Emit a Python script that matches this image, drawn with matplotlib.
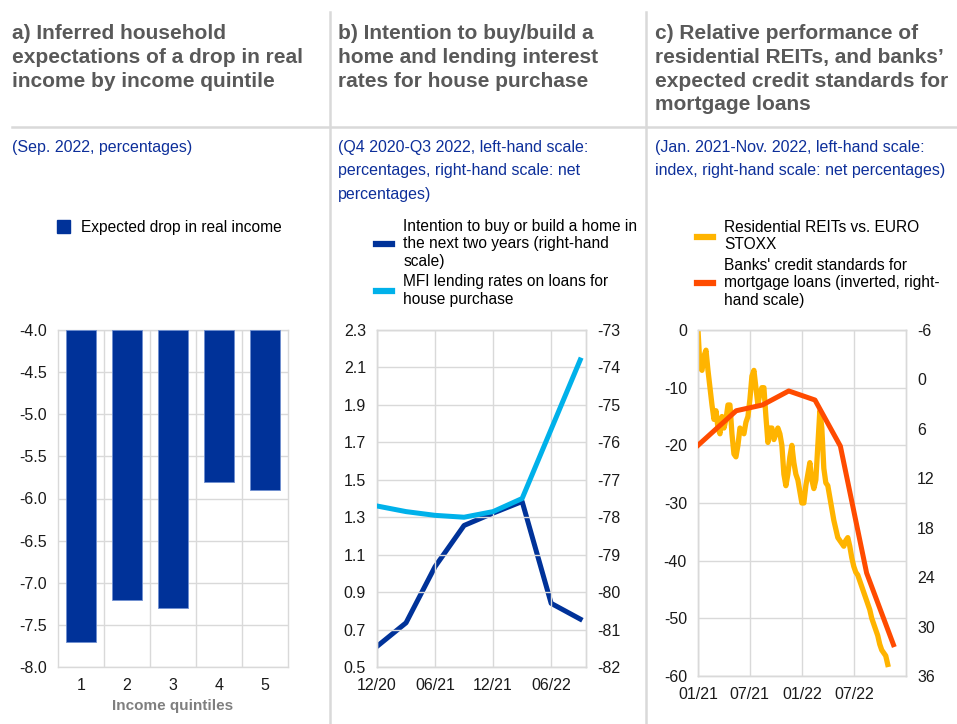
import numpy as np
import pandas as pd
import matplotlib
matplotlib.use("Agg")
import matplotlib.pyplot as plt
import matplotlib.dates as mdates
from matplotlib.patches import Patch
from matplotlib.lines import Line2D

plt.rcParams['font.family'] = ['Liberation Sans', 'DejaVu Sans']
plt.rcParams['axes.unicode_minus'] = False

# colours
ecb_blue = '#003299'
light_blue = '#00b1ea'
yellow = '#ffb400'
orange = '#ff4b00'
grid_col = '#d9d9d9'
title_col = '#595959'
sub_col = '#0d2f9a'

# panel a data
quintiles = ['1', '2', '3', '4', '5']
drop_income = [-7.7, -7.2, -7.3, -5.8, -5.9]

# panel b data (quarterly, Q4 2020 - Q3 2022)
b_ticklabels = ['12/20', '06/21', '12/21', '06/22']
lending_rates = [1.36, 1.33, 1.31, 1.30, 1.33, 1.40, 1.77, 2.14]
intention = [-81.45, -80.82, -79.32, -78.22, -77.89, -77.58, -80.30, -80.72]

# panel c data
reit_start = '2021-01-01'
reit_values = [0, -6.5, -7, -4.5, -3.5, -7, -10, -13, -15.5, -14,
               -17, -18, -15, -17, -15.5, -13, -13, -18, -21.5, -22,
               -20, -17, -17.5, -18, -16, -15, -12, -8, -7, -10,
               -13, -11, -10, -10, -15, -19.5, -17, -17, -19, -18,
               -17, -18, -20, -25, -27, -25, -22, -20, -23, -25,
               -26, -28, -30, -30, -27, -25, -23, -26, -27.5, -26,
               -20, -14, -17, -24, -26.5, -27, -29, -31, -33, -34.5,
               -36, -36.5, -37, -37.5, -36.5, -36, -37.5, -39.5, -41, -42,
               -42.5, -43.5, -44.5, -45.5, -46.5, -47.5, -48.5, -50, -51, -52,
               -53, -54.5, -55.5, -56, -56.5, -58]
credit_dates = ['2021-01-01', '2021-05-15', '2021-08-15', '2021-11-15',
                '2022-02-15', '2022-05-15', '2022-08-15', '2022-11-17']
credit_std = [8, 3.8, 3.1, 1.4, 2.5, 8.1, 23.5, 32.2]

W, H = 957, 724
fig = plt.figure(figsize=(W / 100, H / 100), dpi=100)


def fx(px):
    return px / W


def fy(py):
    return 1 - py / H


def style_axis(ax):
    for s in ax.spines.values():
        s.set_color(grid_col)
        s.set_linewidth(1)
    ax.tick_params(length=0, labelsize=11.5, colors='#1a1a1a', pad=8)
    ax.set_axisbelow(True)


# separators
fig.add_artist(Line2D([fx(330), fx(330)], [fy(12), 0], color=grid_col, lw=1.8))
fig.add_artist(Line2D([fx(646), fx(646)], [fy(12), 0], color=grid_col, lw=1.8))
fig.add_artist(Line2D([fx(12), 1], [fy(127), fy(127)], color=grid_col, lw=1.8))

# titles and subtitles
titles = [(12, 'a) Inferred household\nexpectations of a drop in real\nincome by income quintile'),
          (338, 'b) Intention to buy/build a\nhome and lending interest\nrates for house purchase'),
          (655, 'c) Relative performance of\nresidential REITs, and banks\u2019\nexpected credit standards for\nmortgage loans')]
for x, t in titles:
    fig.text(fx(x), fy(24), t, fontsize=15, fontweight='bold', color=title_col,
             va='top', ha='left', linespacing=1.32)

subs = [(12, '(Sep. 2022, percentages)'),
        (338, '(Q4 2020-Q3 2022, left-hand scale:\npercentages, right-hand scale: net\npercentages)'),
        (655, '(Jan. 2021-Nov. 2022, left-hand scale:\nindex, right-hand scale: net percentages)')]
for x, t in subs:
    fig.text(fx(x), fy(140), t, fontsize=11.5, color=sub_col, va='top', ha='left',
             linespacing=1.7)

# ---------------- panel a ----------------
axa = fig.add_axes([fx(58), fy(667), fx(288 - 58), (667 - 330) / H])
xa = np.arange(len(quintiles))
axa.bar(xa, np.array(drop_income) + 4.0, bottom=-4.0, width=0.66,
        color=ecb_blue, edgecolor='#6f8fd0', linewidth=0.6, zorder=3)
axa.set_ylim(-8, -4)
axa.set_yticks(np.arange(-8, -3.9, 0.5))
axa.set_yticklabels(['%.1f' % v for v in np.arange(-8, -3.9, 0.5)])
axa.set_xlim(-0.5, len(quintiles) - 0.5)
axa.set_xticks(xa)
axa.set_xticklabels(quintiles)
axa.set_xticks(np.arange(0.5, len(quintiles) - 1, 1), minor=True)
axa.grid(axis='y', color=grid_col, lw=1)
axa.grid(axis='x', which='minor', color=grid_col, lw=1)
axa.tick_params(which='minor', length=0)
style_axis(axa)
axa.set_xlabel('Income quintiles', fontsize=11, fontweight='bold', color='#7f7f7f', labelpad=4)
axa.legend(handles=[Patch(color=ecb_blue, label='Expected drop in real income')],
           loc='upper left', bbox_to_anchor=(fx(57), fy(220)), bbox_transform=fig.transFigure,
           frameon=False, fontsize=11.2, handlelength=0.85, handleheight=0.85,
           handletextpad=0.7, borderpad=0, borderaxespad=0)

# ---------------- panel b ----------------
axb = fig.add_axes([fx(377), fy(667), fx(586 - 377), (667 - 330) / H])
xb = np.arange(len(lending_rates))
axb.plot(xb, lending_rates, color=light_blue, lw=3.6, zorder=3)
axb.set_ylim(0.5, 2.3)
axb.set_yticks(np.arange(0.5, 2.31, 0.2))
axb.set_yticklabels(['%.1f' % v for v in np.arange(0.5, 2.31, 0.2)])
axb.set_xlim(0, 7.2)
axb.set_xticks([0, 2, 4, 6])
axb.set_xticklabels(b_ticklabels)
axb.grid(color=grid_col, lw=1)
style_axis(axb)
axb2 = axb.twinx()
axb2.plot(xb, intention, color=ecb_blue, lw=3.6, zorder=4)
axb2.set_ylim(-82, -73)
axb2.set_yticks(np.arange(-82, -72, 1))
style_axis(axb2)
axb.set_zorder(axb2.get_zorder() + 1)
axb.patch.set_visible(False)
axb.legend(handles=[Line2D([], [], color=ecb_blue, lw=4.5,
                           label='Intention to buy or build a home in\nthe next two years (right-hand\nscale)'),
                    Line2D([], [], color=light_blue, lw=4.5,
                           label='MFI lending rates on loans for\nhouse purchase')],
           loc='upper left', bbox_to_anchor=(fx(376), fy(219)), bbox_transform=fig.transFigure,
           frameon=False, fontsize=11.2, handlelength=1.05, handletextpad=0.7,
           labelspacing=0.35, borderpad=0, borderaxespad=0)

# ---------------- panel c ----------------
axc = fig.add_axes([fx(698), fy(676), fx(906 - 698), (676 - 330) / H])
reit_dates = pd.date_range(reit_start, periods=len(reit_values), freq='7D')
axc.plot(reit_dates, reit_values, color=yellow, lw=3.8, zorder=3)
axc.set_ylim(-60, 0)
axc.set_yticks(np.arange(-60, 1, 10))
axc.set_xlim(pd.Timestamp('2021-01-01'), pd.Timestamp('2022-12-31'))
axc.set_xticks(pd.to_datetime(['2021-01-01', '2021-07-01', '2022-01-01', '2022-07-01']))
axc.xaxis.set_major_formatter(mdates.DateFormatter('%m/%y'))
axc.grid(color=grid_col, lw=1)
style_axis(axc)
axc2 = axc.twinx()
axc2.plot(pd.to_datetime(credit_dates), credit_std, color=orange, lw=3.6, zorder=4)
axc2.set_ylim(36, -6)
axc2.set_yticks(np.arange(-6, 37, 6))
style_axis(axc2)
axc2.legend(handles=[Line2D([], [], color=yellow, lw=4.5,
                            label='Residential REITs vs. EURO\nSTOXX'),
                     Line2D([], [], color=orange, lw=4.5,
                            label="Banks' credit standards for\nmortgage loans (inverted, right-\nhand scale)")],
            loc='upper left', bbox_to_anchor=(fx(697), fy(220)), bbox_transform=fig.transFigure,
            frameon=False, fontsize=11.2, handlelength=1.05, handletextpad=0.7,
            labelspacing=0.35, borderpad=0, borderaxespad=0)

fig.savefig('out.png', dpi=100)
